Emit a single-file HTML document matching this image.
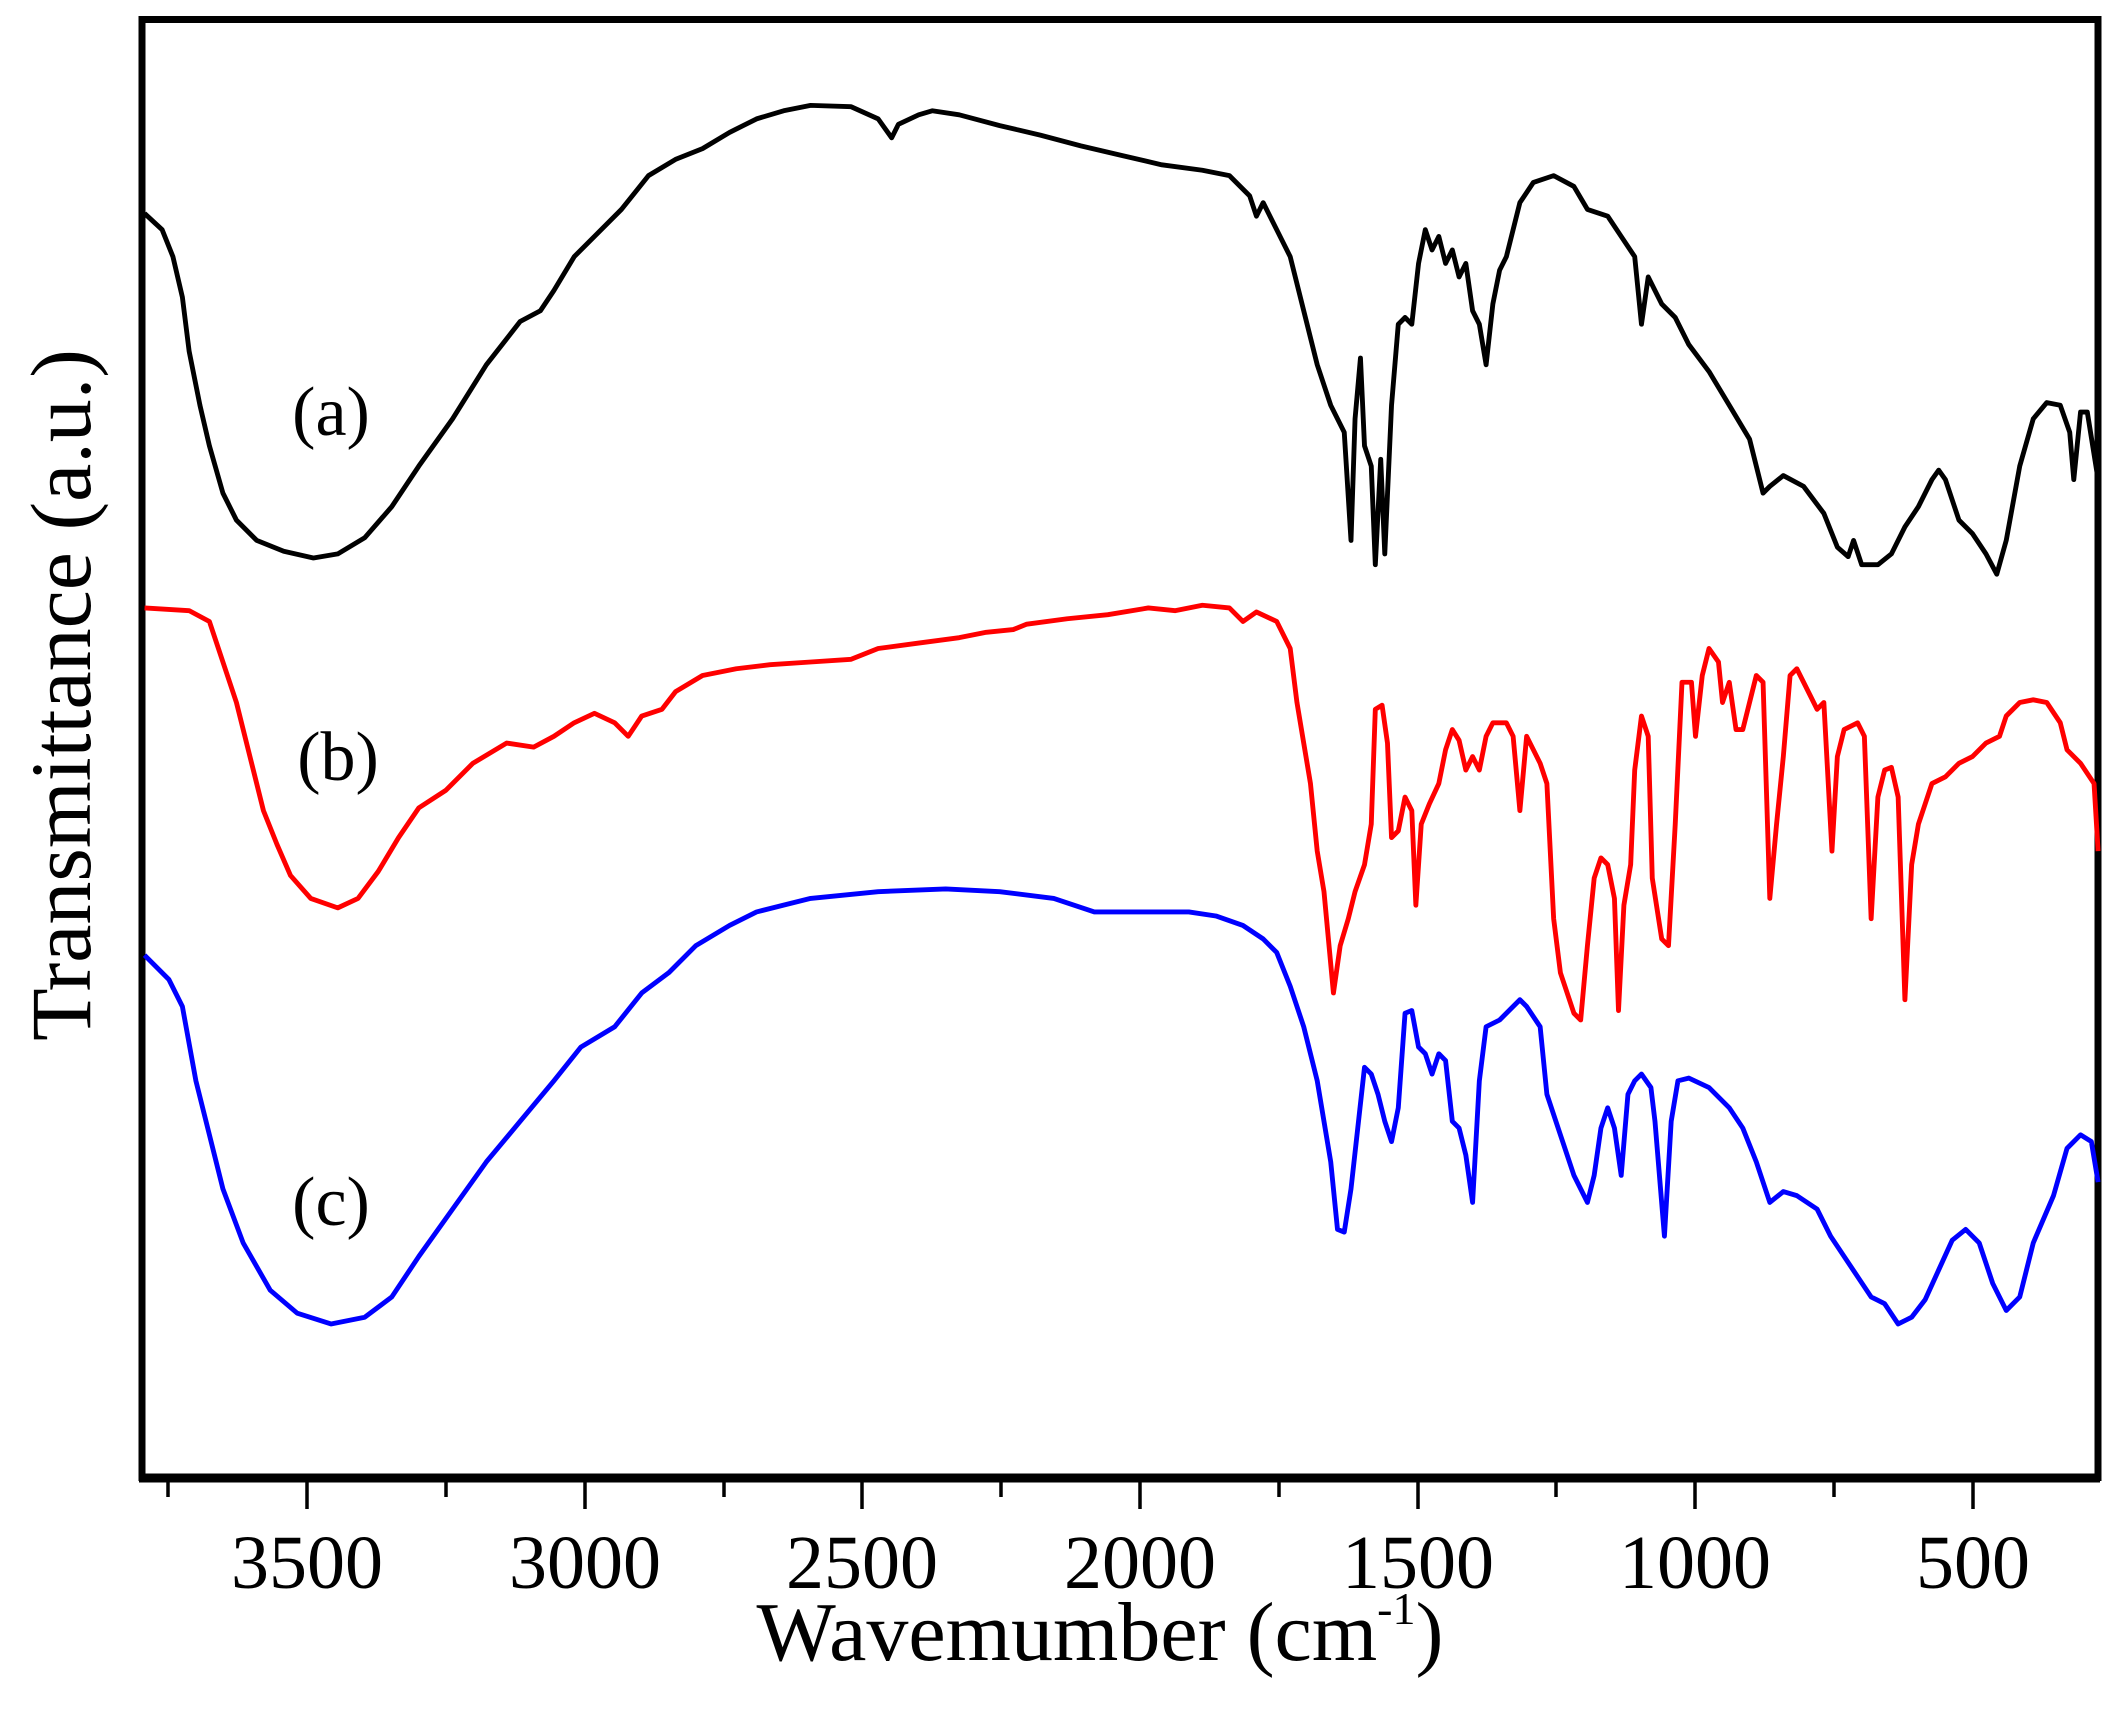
<!DOCTYPE html>
<html><head><style>body{margin:0;background:#fff}svg{display:block}</style></head><body>
<svg width="2118" height="1716" viewBox="0 0 2118 1716" xmlns="http://www.w3.org/2000/svg" font-family="Liberation Serif, serif">
<rect x="142" y="19.5" width="1956" height="1458" fill="none" stroke="#000" stroke-width="7"/>
<line x1="139" y1="1478" x2="2100" y2="1478" stroke="#000" stroke-width="9"/>
<g stroke="#000" stroke-width="3.5">
<line x1="307" y1="1478" x2="307" y2="1509"/><line x1="585" y1="1478" x2="585" y2="1509"/><line x1="862" y1="1478" x2="862" y2="1509"/><line x1="1140" y1="1478" x2="1140" y2="1509"/><line x1="1418" y1="1478" x2="1418" y2="1509"/><line x1="1695" y1="1478" x2="1695" y2="1509"/><line x1="1973" y1="1478" x2="1973" y2="1509"/>
<line x1="168" y1="1478" x2="168" y2="1497"/><line x1="446" y1="1478" x2="446" y2="1497"/><line x1="724" y1="1478" x2="724" y2="1497"/><line x1="1001" y1="1478" x2="1001" y2="1497"/><line x1="1279" y1="1478" x2="1279" y2="1497"/><line x1="1556" y1="1478" x2="1556" y2="1497"/><line x1="1834" y1="1478" x2="1834" y2="1497"/>
</g>
<g font-size="76" text-anchor="middle" fill="#000">
<text x="307" y="1588">3500</text><text x="585" y="1588">3000</text><text x="862" y="1588">2500</text><text x="1140" y="1588">2000</text><text x="1418" y="1588">1500</text><text x="1695" y="1588">1000</text><text x="1973" y="1588">500</text>
</g>
<text x="1100" y="1660" font-size="84" text-anchor="middle">Wavemumber (cm<tspan font-size="46" dy="-36">-1</tspan><tspan dy="36">)</tspan></text>
<text transform="translate(90,695) rotate(-90)" font-size="86" text-anchor="middle">Transmittance (a.u.)</text>
<g font-size="70" text-anchor="middle">
<text x="331" y="435">(a)</text><text x="338" y="780">(b)</text><text x="331" y="1225">(c)</text>
</g>
<g transform="scale(1.351)" fill="none" stroke-width="3.6" stroke-linejoin="round">
<polyline stroke="#000" points="107,158 120,170 128,190 135,220 140,260 148,300 155,330 165,365 175,385 190,400 210,408 232,413 250,410 270,398 290,375 310,345 335,310 360,270 385,238 400,230 410,215 425,190 440,175 460,155 480,130 500,118 520,110 540,98 560,88 580,82 600,78 630,79 650,88 660,102 665,92 680,85 690,82 710,85 740,93 770,100 800,108 830,115 860,122 890,126 910,130 925,145 930,160 935,150 945,170 955,190 965,230 975,270 985,300 995,320 1000,400 1003,310 1007,265 1010,330 1015,345 1018,418 1022,340 1025,410 1030,300 1035,240 1040,235 1045,240 1050,195 1055,170 1060,185 1065,175 1070,195 1075,185 1080,205 1085,195 1090,230 1095,240 1100,270 1105,225 1110,200 1115,190 1125,150 1135,135 1150,130 1165,138 1175,155 1190,160 1200,175 1210,190 1215,240 1220,205 1230,225 1240,235 1250,255 1265,275 1280,300 1295,325 1305,365 1310,360 1320,352 1335,360 1350,380 1360,405 1368,412 1372,400 1378,418 1390,418 1400,410 1410,390 1420,375 1430,355 1435,348 1440,355 1450,385 1460,395 1470,410 1478,425 1485,400 1495,345 1505,310 1515,298 1525,300 1532,320 1535,355 1540,305 1545,305 1553,355"/>
<polyline stroke="#f00" points="107,450 140,452 155,460 165,490 175,520 185,560 195,600 205,625 215,648 230,665 250,672 265,665 280,645 295,620 310,598 330,585 350,565 375,550 395,553 410,545 425,535 440,528 455,535 465,545 475,530 490,525 500,512 520,500 545,495 570,492 600,490 630,488 650,480 680,476 710,472 730,468 750,466 760,462 790,458 820,455 850,450 870,452 890,448 910,450 920,460 930,453 945,460 955,480 960,520 965,550 970,580 975,630 980,660 987,735 992,700 998,680 1003,660 1010,640 1015,610 1018,525 1023,522 1027,550 1030,620 1035,615 1040,590 1045,600 1048,670 1052,610 1058,595 1065,580 1070,555 1075,540 1080,548 1085,570 1090,560 1095,570 1100,545 1105,535 1115,535 1120,545 1125,600 1130,545 1135,555 1140,565 1145,580 1150,680 1155,720 1165,750 1170,755 1175,700 1180,650 1185,635 1190,640 1195,665 1198,748 1202,670 1207,640 1210,570 1215,530 1220,545 1223,650 1230,695 1235,700 1240,610 1245,505 1252,505 1255,545 1260,500 1265,480 1272,490 1275,520 1280,505 1285,540 1290,540 1295,520 1300,500 1305,505 1310,665 1315,610 1320,560 1325,500 1330,495 1340,515 1345,525 1350,520 1356,630 1360,560 1365,540 1375,535 1380,545 1385,680 1390,590 1395,570 1400,568 1405,590 1410,740 1415,640 1420,610 1425,595 1430,580 1440,575 1450,565 1460,560 1470,550 1480,545 1485,530 1495,520 1505,518 1515,520 1525,535 1530,555 1540,565 1550,580 1553,630"/>
<polyline stroke="#00f" points="107,707 125,725 135,745 145,800 155,840 165,880 180,920 200,955 220,972 245,980 270,975 290,960 310,930 335,895 360,860 385,830 410,800 430,775 455,760 475,735 495,720 515,700 540,685 560,675 580,670 600,665 650,660 700,658 740,660 780,665 810,675 880,675 900,678 920,685 935,695 945,705 955,730 965,760 975,800 985,860 990,910 995,912 1000,880 1005,835 1010,790 1015,795 1020,810 1025,830 1030,845 1035,820 1040,750 1045,748 1050,775 1055,780 1060,795 1065,780 1070,785 1075,830 1080,835 1085,855 1090,890 1095,800 1100,760 1110,755 1120,745 1125,740 1130,745 1140,760 1145,810 1155,840 1165,870 1175,890 1180,870 1185,835 1190,820 1195,835 1200,870 1205,810 1210,800 1215,795 1222,805 1225,830 1232,915 1237,830 1242,800 1250,798 1265,805 1280,820 1290,835 1300,860 1310,890 1320,882 1330,885 1345,895 1355,915 1365,930 1375,945 1385,960 1395,965 1405,980 1415,975 1425,962 1435,940 1445,918 1455,910 1465,920 1475,950 1485,970 1495,960 1505,920 1520,885 1530,850 1540,840 1548,845 1553,875"/>
</g>
</svg>
</body></html>
